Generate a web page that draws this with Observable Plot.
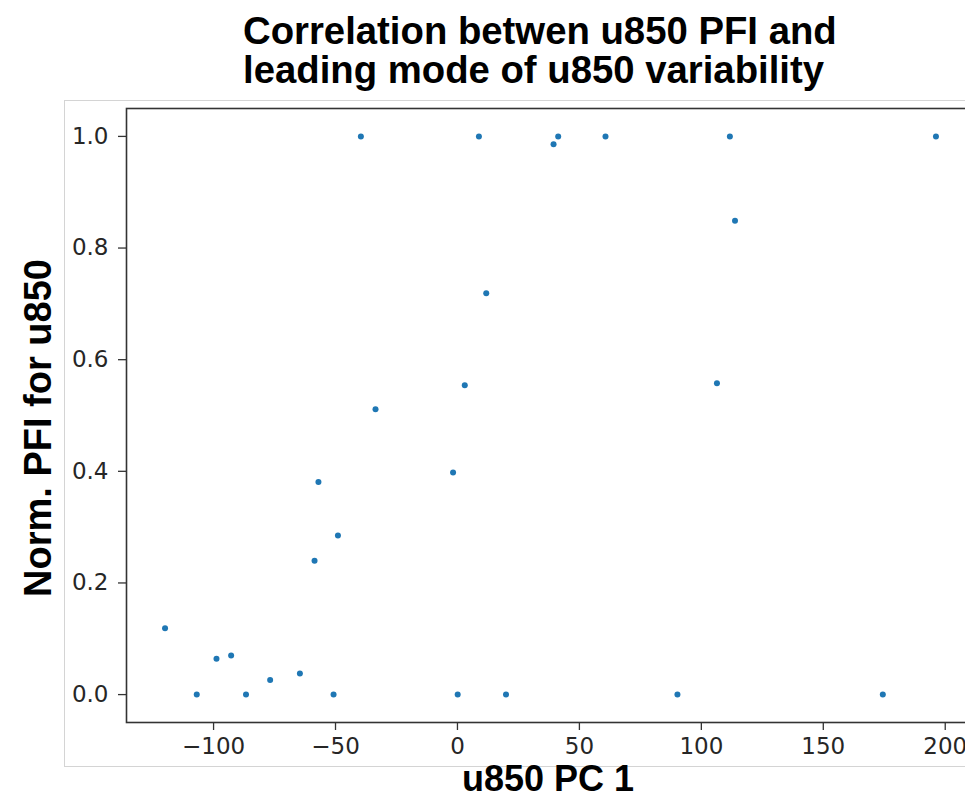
<!DOCTYPE html>
<html>
<head>
<meta charset="utf-8">
<script src="https://cdn.jsdelivr.net/npm/d3@7"></script>
<script src="https://cdn.jsdelivr.net/npm/@observablehq/plot@0.6"></script>
<style>
  html, body { margin: 0; padding: 0; background: #fff; overflow: hidden; width: 965px; height: 799px; }
  #wrap { position: relative; width: 965px; height: 799px; overflow: hidden; }
  #box { position: absolute; left: 64px; top: 100px; width: 1000px; height: 665px; border: 1px solid #d4d4d4; }
  #chart { position: absolute; left: 0; top: 0; width: 980px; }
  #chart svg { max-width: none !important; }
  #overlay { position: absolute; left: 0; top: 0; }
</style>
</head>
<body>
<div id="wrap">
  <div id="box"></div>
  <div id="chart"></div>
  <svg id="overlay" width="965" height="799"></svg>
</div>
<script>
// PC1 value of u850 leading mode
const pc1 = [-119.9, -106.9, -98.8, -92.8, -86.7, -76.8, -64.6, -50.8, 0.1, 19.9, 90.2, 174.4,
             -58.6, -49.0, -57.0, -33.6, -1.8, 3.0, 11.8, -39.6, 8.8, 39.4, 41.3, 60.7,
             111.7, 113.8, 196.2, 106.4];
// Normalised PFI for u850
const pfi = [0.119, 0, 0.064, 0.070, 0, 0.026, 0.038, 0, 0, 0, 0, 0,
             0.240, 0.285, 0.381, 0.511, 0.398, 0.554, 0.719, 1, 1, 0.986, 1, 1,
             1, 0.849, 1, 0.558];
const xTicks = [-100, -50, 0, 50, 100, 150, 200];
const yTicks = [0, 0.2, 0.4, 0.6, 0.8, 1.0];
const titleLines = ["Correlation betwen u850 PFI and", "leading mode of u850 variability"];
const xLabel = "u850 PC 1";
const yLabel = "Norm. PFI for u850";

const data = pc1.map((x, i) => ({x, y: pfi[i]}));

const chart = Plot.plot({
  width: 980,
  height: 799,
  marginTop: 108,
  marginBottom: 77,
  marginLeft: 126,
  marginRight: 6,
  style: {fontFamily: "DejaVu Sans", fontSize: "23px", color: "#262626", background: "transparent", maxWidth: "none"},
  x: {domain: [-135.7, 212.0], label: null},
  y: {domain: [-0.05, 1.05], label: null},
  marks: [
    Plot.axisX({ticks: xTicks, tickSize: 8, tickPadding: 7, stroke: "#333", strokeWidth: 1.3,
                tickFormat: d => d3.format("d")(d).replace("-", "\u2212"), label: null, fill: "#262626"}),
    Plot.axisY({ticks: yTicks, tickSize: 8, tickPadding: 10, stroke: "#333", strokeWidth: 1.3,
                tickFormat: d3.format(".1f"), label: null, fill: "#262626"}),
    Plot.frame({stroke: "#333", strokeWidth: 1.6}),
    Plot.dot(data, {x: "x", y: "y", r: 3, fill: "#1f77b4", stroke: "none"})
  ]
});
document.getElementById("chart").appendChild(chart);

const ov = d3.select("#overlay");
const bold = {family: "'Liberation Sans', Arial, Helvetica, sans-serif", size: 37};
ov.selectAll("text.title").data(titleLines).join("text")
  .attr("class", "title")
  .attr("x", 243).attr("y", (d, i) => 44 + i * 39)
  .attr("font-family", bold.family).attr("font-size", 38.3).attr("font-weight", "bold")
  .attr("fill", "#000").text(d => d);
ov.append("text")
  .attr("x", 548).attr("y", 791).attr("text-anchor", "middle")
  .attr("font-family", bold.family).attr("font-size", 36).attr("font-weight", "bold")
  .attr("fill", "#000").text(xLabel);
ov.append("text")
  .attr("transform", "translate(51,428) rotate(-90)").attr("text-anchor", "middle")
  .attr("font-family", bold.family).attr("font-size", 38).attr("font-weight", "bold")
  .attr("fill", "#000").text(yLabel);
</script>
</body>
</html>
